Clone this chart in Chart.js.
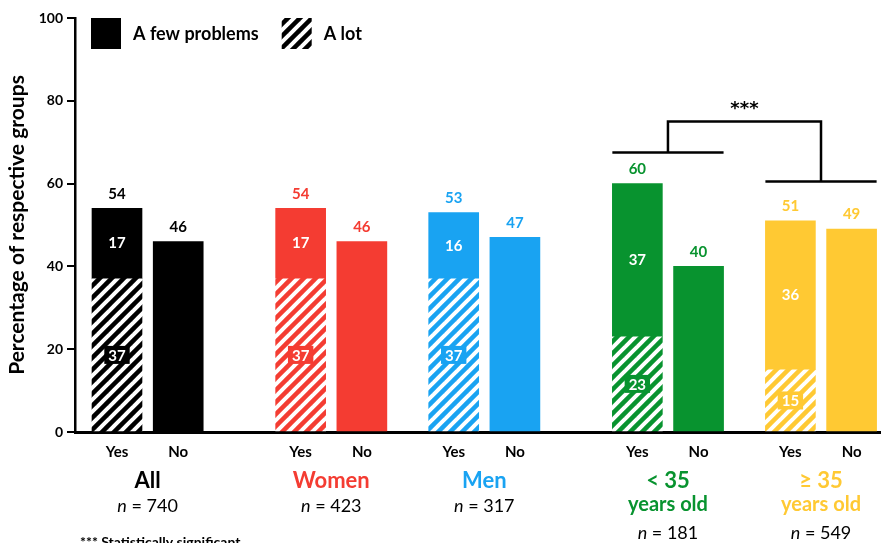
<!DOCTYPE html>
<html>
<head>
<meta charset="utf-8">
<script src="https://cdn.jsdelivr.net/npm/chart.js@4.4.1/dist/chart.umd.min.js"></script>
<style>
  html, body { margin: 0; padding: 0; background: #fff; }
</style>
</head>
<body>
<canvas id="chart" width="881" height="543"></canvas>
<script>
// groups along the x axis
const groups = ['All', 'Women', 'Men', '< 35', '≥ 35'];
const groupSub = ['', '', '', 'years old', 'years old'];
const groupN = [740, 423, 317, 181, 549];
const groupColors = ['#000000', '#F43C32', '#19A3F2', '#08932F', '#FFC933'];
const answers = ['Yes', 'No'];

// percentages of respective groups
const aLot = [37, 37, 37, 23, 15];          // "Yes", hatched part
const aFewProblems = [17, 17, 16, 37, 36];  // "Yes", solid part
const noAnswer = [46, 46, 47, 40, 49];

const yTicks = [0, 20, 40, 60, 80, 100];

// empty slots before each group
const groupSpacing = [0, 4, 3, 4, 3];

// significance bracket between "< 35" and ">= 35"
const sigGroups = [3, 4];
const sigLevels = [67.5, 60.5, 75];
const sigText = '***';

const FONT = 'Lato, "Open Sans", sans-serif';

let yesSlot = [], noSlot = [];
let s = 0;
groups.forEach((g, i) => {
  s += groupSpacing[i];
  yesSlot.push(s);
  noSlot.push(s + 2);
  s += 2;
});

function hatch(color) {
  const c = document.createElement('canvas');
  c.width = c.height = 12;
  const x = c.getContext('2d');
  x.fillStyle = color;
  x.fillRect(0, 0, 12, 12);
  x.strokeStyle = '#fff';
  x.lineWidth = 4;
  for (let k = 0; k <= 2; k++) {
    x.beginPath();
    x.moveTo(k * 12 + 2, -2);
    x.lineTo(k * 12 - 14, 14);
    x.stroke();
  }
  return x.createPattern(c, 'repeat');
}

const barLabels = {
  id: 'barLabels',
  afterDatasetsDraw(chart) {
    const ctx = chart.ctx;
    const lot = chart.getDatasetMeta(0).data;
    const few = chart.getDatasetMeta(1).data;
    const no = chart.getDatasetMeta(2).data;
    ctx.save();
    ctx.textAlign = 'center';
    ctx.textBaseline = 'middle';
    ctx.font = 'bold 15px ' + FONT;
    groups.forEach((g, i) => {
      const c = groupColors[i];
      // hatched part, value on a little box
      const ly = (lot[i].y + lot[i].base) / 2;
      const t = String(aLot[i]);
      const w = ctx.measureText(t).width + 8;
      ctx.fillStyle = c;
      ctx.fillRect(lot[i].x - w / 2, ly - 9, w, 18);
      ctx.fillStyle = '#fff';
      ctx.fillText(t, lot[i].x, ly + 1);
      // solid part
      ctx.fillText(String(aFewProblems[i]), few[i].x, (few[i].y + few[i].base) / 2);
      // totals above
      ctx.fillStyle = c;
      ctx.fillText(String(aLot[i] + aFewProblems[i]), few[i].x, few[i].y - 14.5);
      ctx.fillText(String(noAnswer[i]), no[i].x, no[i].y - 14.5);
    });
    ctx.restore();
  }
};

const sigBracket = {
  id: 'sigBracket',
  afterDatasetsDraw(chart) {
    const ctx = chart.ctx;
    const y = chart.scales.y;
    const few = chart.getDatasetMeta(1).data;
    const no = chart.getDatasetMeta(2).data;
    const spans = sigGroups.map(i => [few[i].x - few[i].width / 2, no[i].x + no[i].width / 2]);
    const yA = y.getPixelForValue(sigLevels[0]);
    const yB = y.getPixelForValue(sigLevels[1]);
    const yT = y.getPixelForValue(sigLevels[2]);
    const mA = (spans[0][0] + spans[0][1]) / 2;
    const mB = (spans[1][0] + spans[1][1]) / 2;
    ctx.save();
    ctx.strokeStyle = '#000';
    ctx.lineWidth = 2.5;
    ctx.beginPath();
    ctx.moveTo(spans[0][0], yA); ctx.lineTo(spans[0][1], yA);
    ctx.moveTo(spans[1][0], yB); ctx.lineTo(spans[1][1], yB);
    ctx.moveTo(mA, yA); ctx.lineTo(mA, yT); ctx.lineTo(mB, yT); ctx.lineTo(mB, yB);
    ctx.stroke();
    ctx.fillStyle = '#000';
    ctx.font = 'bold 18px "DejaVu Sans", sans-serif';
    ctx.textAlign = 'center';
    ctx.textBaseline = 'middle';
    ctx.fillText(sigText, (mA + mB) / 2, yT - 12);
    ctx.restore();
  }
};

const legendBoxes = {
  id: 'legendBoxes',
  afterDraw(chart) {
    const { ctx, chartArea } = chart;
    const items = [chart.data.datasets[1], chart.data.datasets[0]];
    let x = chartArea.left + 16;
    const y = chartArea.top;
    ctx.save();
    ctx.font = 'bold 18px ' + FONT;
    ctx.textBaseline = 'middle';
    items.forEach(ds => {
      ctx.fillStyle = ds.backgroundColor[0];
      ctx.fillRect(x, y, 30, 31);
      ctx.fillStyle = '#000';
      ctx.fillText(ds.label, x + 42, y + 16);
      x += 42 + ctx.measureText(ds.label).width + 23;
    });
    ctx.restore();
  }
};

const groupLabels = {
  id: 'groupLabels',
  afterDraw(chart) {
    const ctx = chart.ctx;
    const x = chart.scales.x;
    ctx.save();
    ctx.textBaseline = 'middle';
    groups.forEach((g, i) => {
      const cx = (x.getPixelForValue(yesSlot[i]) + x.getPixelForValue(noSlot[i])) / 2;
      ctx.textAlign = 'center';
      ctx.fillStyle = groupColors[i];
      ctx.font = 'bold 22px ' + FONT;
      ctx.fillText(g, cx, 481);
      let ny = 506;
      if (groupSub[i]) {
        ctx.font = 'bold 20px ' + FONT;
        ctx.fillText(groupSub[i], cx, 505);
        ny = 533;
      }
      ctx.fillStyle = '#000';
      ctx.font = 'italic 18px ' + FONT;
      const wn = ctx.measureText('n').width;
      const rest = ' = ' + groupN[i];
      ctx.font = '18px ' + FONT;
      const wr = ctx.measureText(rest).width;
      const sx = cx - (wn + wr) / 2;
      ctx.textAlign = 'left';
      ctx.font = 'italic 18px ' + FONT;
      ctx.fillText('n', sx, ny);
      ctx.font = '18px ' + FONT;
      ctx.fillText(rest, sx + wn, ny);
    });
    ctx.textAlign = 'left';
    ctx.textBaseline = 'alphabetic';
    ctx.font = 'bold 14px ' + FONT;
    ctx.fillStyle = '#000';
    ctx.fillText(sigText + ' Statistically significant', 80, 547);
    ctx.restore();
  }
};

new Chart(document.getElementById('chart'), {
  type: 'bar',
  data: {
    datasets: [
      {
        label: 'A lot',
        data: yesSlot.map((v, i) => ({ x: v, y: aLot[i] })),
        backgroundColor: groupColors.map(c => hatch(c)),
        stack: 's'
      },
      {
        label: 'A few problems',
        data: yesSlot.map((v, i) => ({ x: v, y: aFewProblems[i] })),
        backgroundColor: groupColors,
        stack: 's'
      },
      {
        label: 'No',
        data: noSlot.map((v, i) => ({ x: v, y: noAnswer[i] })),
        backgroundColor: groupColors,
        stack: 's'
      }
    ]
  },
  options: {
    responsive: false,
    animation: false,
    barThickness: 50,
    layout: { padding: { top: 18, right: 0, left: 0, bottom: 0 } },
    plugins: {
      legend: { display: false },
      tooltip: { enabled: false }
    },
    scales: {
      x: {
        type: 'linear',
        min: -1.372,
        max: 24.96,
        offset: false,
        afterBuildTicks: a => {
          a.ticks = [...yesSlot, ...noSlot].sort((p, q) => p - q).map(v => ({ value: v }));
        },
        grid: { display: false, drawTicks: false },
        border: { display: true, color: '#000', width: 3 },
        ticks: {
          callback: v => yesSlot.includes(v) ? answers[0] : answers[1],
          autoSkip: false,
          maxRotation: 0,
          color: '#000',
          font: { family: FONT, size: 15, weight: 'bold' },
          padding: 11
        },
        afterFit: sc => { sc.height = 111; }
      },
      y: {
        stacked: true,
        min: 0,
        max: 100,
        afterBuildTicks: a => { a.ticks = yTicks.map(v => ({ value: v })); },
        border: { display: true, color: '#000', width: 2.5 },
        grid: { drawOnChartArea: false, drawTicks: true, tickLength: 8, color: '#000', lineWidth: 2 },
        ticks: { color: '#000', font: { family: FONT, size: 14, weight: 'bold' }, padding: 4 },
        title: {
          display: true,
          text: 'Percentage of respective groups',
          color: '#000',
          font: { family: FONT, size: 21, weight: 'bold' },
          padding: { top: 5, bottom: 0 }
        },
        afterFit: sc => { sc.width = 75; }
      }
    }
  },
  plugins: [barLabels, sigBracket, legendBoxes, groupLabels]
});
</script>
</body>
</html>
